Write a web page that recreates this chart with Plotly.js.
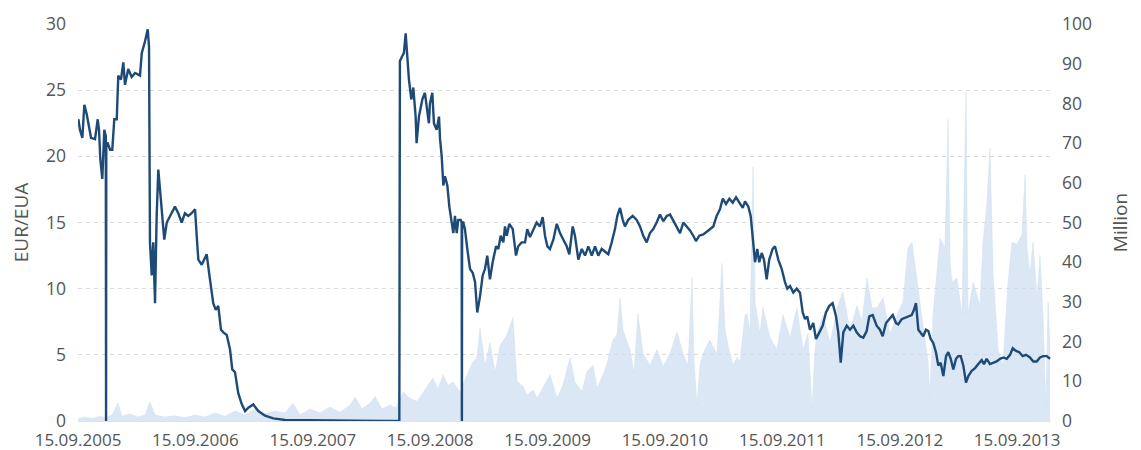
<!DOCTYPE html>
<html>
<head>
<meta charset="utf-8">
<script src="https://cdn.plot.ly/plotly-3.0.1.min.js"></script>
<style>
  html, body { margin: 0; padding: 0; background: #fff; }
  #chart { width: 1141px; height: 450px; }
</style>
</head>
<body>
<div id="chart"></div>
<script>
// Time in decimal years (15.09.2005 = 2005.707)
const priceT = [
  2005.710,2005.724,2005.744,2005.761,2005.781,2005.795,2005.818,2005.852,2005.875,2005.886,
  2005.897,2005.914,2005.931,2005.944,2005.946,2005.948,2005.960,2005.980,2005.999,2006.016,
  2006.037,2006.050,2006.073,2006.093,2006.107,2006.135,2006.164,2006.193,2006.235,2006.250,
  2006.278,2006.301,2006.312,2006.320,2006.335,2006.348,2006.363,2006.377,2006.391,2006.408,
  2006.425,2006.442,2006.463,2006.491,2006.533,2006.561,2006.590,2006.618,2006.647,2006.675,
  2006.704,2006.718,2006.732,2006.761,2006.803,2006.831,2006.859,2006.880,2006.902,2006.925,
  2006.945,2006.974,2007.002,2007.021,2007.044,2007.072,2007.101,2007.130,2007.158,2007.200,
  2007.243,2007.300,2007.371,2007.470,2007.555,2007.768,2008.024,2008.279,2008.444,
  2008.449,2008.470,2008.483,2008.498,2008.512,2008.526,2008.546,2008.563,2008.583,2008.591,
  2008.611,2008.640,2008.662,2008.682,2008.696,2008.705,2008.725,2008.739,2008.762,2008.782,
  2008.791,2008.805,2008.819,2008.833,2008.853,2008.870,2008.890,2008.904,2008.918,2008.933,
  2008.946,2008.967,2008.975,2008.977,2008.979,2008.989,2009.003,2009.023,2009.046,2009.069,
  2009.089,2009.108,2009.131,2009.154,2009.174,2009.193,2009.216,2009.239,2009.268,2009.287,
  2009.308,2009.330,2009.344,2009.359,2009.381,2009.410,2009.429,2009.438,2009.457,2009.486,
  2009.515,2009.534,2009.557,2009.585,2009.614,2009.642,2009.665,2009.685,2009.705,2009.727,
  2009.756,2009.785,2009.813,2009.841,2009.870,2009.892,2009.921,2009.940,2009.969,2009.998,
  2010.026,2010.054,2010.083,2010.111,2010.139,2010.168,2010.196,2010.224,2010.253,2010.281,
  2010.301,2010.324,2010.347,2010.366,2010.394,2010.432,2010.466,2010.494,2010.522,2010.551,
  2010.579,2010.607,2010.636,2010.664,2010.693,2010.722,2010.750,2010.778,2010.807,2010.835,
  2010.863,2010.892,2010.920,2010.948,2010.971,2010.999,2011.033,2011.076,2011.119,2011.147,
  2011.175,2011.199,2011.227,2011.255,2011.284,2011.312,2011.340,2011.369,2011.389,2011.417,
  2011.437,2011.459,2011.474,2011.493,2011.510,2011.531,2011.550,2011.573,2011.595,2011.624,
  2011.644,2011.672,2011.701,2011.729,2011.749,2011.772,2011.800,2011.829,2011.857,2011.880,
  2011.900,2011.919,2011.942,2011.970,2011.993,2012.022,2012.050,2012.078,2012.107,2012.135,
  2012.164,2012.183,2012.204,2012.226,2012.255,2012.283,2012.311,2012.340,2012.368,2012.396,
  2012.425,2012.447,2012.476,2012.510,2012.538,2012.561,2012.590,2012.618,2012.647,2012.675,
  2012.694,2012.723,2012.751,2012.780,2012.808,2012.828,2012.845,2012.865,2012.885,2012.907,
  2012.930,2012.950,2012.970,2012.992,2013.015,2013.035,2013.055,2013.078,2013.101,2013.120,
  2013.141,2013.163,2013.186,2013.205,2013.226,2013.248,2013.271,2013.291,2013.320,2013.348,
  2013.376,2013.405,2013.424,2013.447,2013.475,2013.504,2013.532,2013.561,2013.589,2013.618,
  2013.646,2013.669,2013.697,2013.725,2013.754,2013.782,2013.816,2013.844,2013.873,2013.901,
  2013.929,2013.958,2013.987
];
const priceEUR = [
  22.8,22.0,21.4,23.9,23.2,22.5,21.4,21.3,22.8,22.0,
  19.8,18.3,22.0,21.5,0,21.0,21.0,20.5,20.5,22.8,
  22.8,26.1,25.8,27.1,25.4,26.6,26.0,26.3,26.1,27.8,
  28.7,29.6,28.3,13.5,11.0,13.5,8.9,15.5,19.0,17.0,
  15.0,13.7,15.0,15.5,16.2,15.7,15.0,15.7,15.5,15.7,
  16.0,14.0,12.2,11.8,12.6,10.7,8.9,8.4,8.7,6.9,
  6.7,6.5,5.4,3.9,3.7,2.1,1.3,0.75,1.0,1.25,
  0.75,0.4,0.2,0.08,0.07,0.03,0.02,0.01,0.01,
  27.2,27.6,27.8,29.3,27.5,25.8,24.3,25.2,23.0,21.0,
  23.0,24.3,24.8,23.5,22.5,24.0,24.8,22.5,22.0,23.0,
  21.3,20.0,17.8,18.5,17.8,16.2,15.0,14.2,15.5,14.2,
  15.2,15.2,15.0,0,15.0,15.0,14.5,13.0,11.5,11.2,
  10.5,8.2,9.4,11.0,11.5,12.5,10.7,12.0,13.2,13.0,
  14.0,13.5,14.7,14.0,14.9,14.5,13.0,12.5,13.2,13.5,
  13.5,14.5,13.9,14.5,15.0,14.7,15.4,14.0,13.2,13.0,
  13.7,14.9,14.2,13.7,13.2,12.6,14.7,14.0,12.2,13.0,
  12.5,13.2,12.5,13.2,12.5,13.0,12.8,12.6,13.5,14.5,
  15.5,16.1,15.2,14.7,15.2,15.5,15.2,14.7,14.0,13.5,
  14.2,14.5,15.0,15.6,15.1,15.5,15.6,15.1,14.6,14.2,
  15.0,14.7,14.4,14.0,13.6,14.0,14.1,14.4,14.7,15.5,
  16.0,16.8,16.4,16.8,16.5,16.9,16.5,16.1,16.6,16.2,
  15.5,13.2,12.0,13.0,12.0,12.7,12.2,10.7,12.2,13.0,
  13.2,12.2,11.5,10.5,10.0,10.2,9.7,10.0,9.7,8.2,
  7.7,7.9,6.9,7.4,6.2,6.7,7.2,8.2,8.7,8.9,
  7.9,6.7,4.4,6.7,7.2,6.9,7.2,6.7,6.4,6.3,
  6.8,7.9,8.0,7.2,6.9,6.4,7.4,7.7,8.0,7.4,
  7.3,7.7,7.8,7.9,8.0,8.4,8.9,6.9,6.7,6.4,
  6.9,6.8,6.2,5.9,5.2,4.2,4.4,3.4,4.9,5.2,
  4.7,3.9,4.7,4.9,4.9,4.2,2.9,3.4,3.8,4.0,
  4.3,4.6,4.3,4.7,4.3,4.4,4.5,4.7,4.8,4.7,
  5.0,5.5,5.3,5.2,4.9,5.0,4.8,4.5,4.5,4.8,
  4.9,4.9,4.7
];

const volT = [
  2005.707,2005.767,2005.826,2005.894,2005.946,2005.997,2006.048,2006.082,2006.150,2006.218,
  2006.278,2006.320,2006.363,2006.448,2006.533,2006.618,2006.704,2006.789,2006.874,2006.959,
  2007.044,2007.130,2007.215,2007.300,2007.385,2007.470,2007.538,2007.598,2007.683,2007.768,
  2007.854,2007.939,2008.024,2008.067,2008.126,2008.194,2008.237,2008.296,2008.365,2008.416,
  2008.475,2008.535,2008.595,2008.646,2008.688,2008.731,2008.773,2008.816,2008.859,2008.901,
  2008.961,2009.021,2009.072,2009.106,2009.131,2009.174,2009.216,2009.259,2009.302,2009.361,
  2009.412,2009.446,2009.498,2009.532,2009.583,2009.617,2009.668,2009.728,2009.787,2009.838,
  2009.898,2009.940,2010.000,2010.043,2010.094,2010.128,2010.179,2010.213,2010.264,2010.298,
  2010.324,2010.349,2010.383,2010.409,2010.443,2010.477,2010.520,2010.579,2010.639,2010.690,
  2010.750,2010.809,2010.860,2010.903,2010.937,2010.954,2010.980,2011.005,2011.031,2011.090,
  2011.116,2011.150,2011.193,2011.218,2011.252,2011.286,2011.320,2011.346,2011.389,2011.406,
  2011.431,2011.457,2011.474,2011.516,2011.542,2011.601,2011.661,2011.712,2011.772,2011.831,
  2011.883,2011.925,2011.959,2011.985,2012.002,2012.053,2012.113,2012.172,2012.223,2012.283,
  2012.343,2012.385,2012.428,2012.470,2012.513,2012.564,2012.624,2012.683,2012.734,2012.777,
  2012.811,2012.854,2012.905,2012.947,2012.964,2012.990,2013.050,2013.092,2013.118,2013.135,
  2013.152,2013.194,2013.237,2013.271,2013.288,2013.331,2013.390,2013.416,2013.450,2013.475,
  2013.501,2013.544,2013.586,2013.629,2013.663,2013.705,2013.748,2013.774,2013.791,2013.816,
  2013.842,2013.876,2013.901,2013.927,2013.952,2013.970,2013.987
];
const volMillion = [
  0.5,1.0,0.6,1.2,0.8,1.5,4.5,1.2,1.8,1.0,
  1.5,4.8,1.5,1.0,1.3,0.8,1.5,1.0,2.0,1.2,
  2.5,1.5,3.0,1.8,2.5,2.0,4.5,1.5,3.0,2.0,
  3.5,2.2,4.0,6.0,3.0,4.5,6.2,3.0,4.0,3.3,
  7.3,5.7,4.9,7.3,9.0,10.8,8.0,11.6,9.0,9.8,
  7.3,11.6,15.0,16.0,23.4,14.0,19.7,12.3,19.0,21.7,
  26.0,10.0,8.7,6.5,7.8,5.7,8.5,11.6,5.7,9.0,
  15.9,9.8,7.4,12.5,14.0,8.3,11.6,14.5,20.4,21.7,
  31.0,23.0,20.0,18.0,12.0,27.0,17.0,14.0,18.0,13.7,
  17.0,22.4,17.0,14.0,36.0,15.0,4.0,14.0,17.0,20.4,
  18.7,17.0,39.7,23.0,18.0,14.0,16.0,15.0,26.7,27.0,
  22.4,64.0,30.0,22.0,28.5,21.0,18.0,26.7,21.0,28.5,
  18.0,22.0,3.0,18.0,22.0,26.7,19.6,28.5,32.5,23.0,
  29.0,25.0,36.0,28.5,28.5,31.0,22.0,26.7,30.0,43.6,
  45.0,36.0,24.0,15.0,6.5,26.7,46.0,43.6,76.0,40.0,
  35.0,36.0,26.7,83.0,26.7,35.0,29.0,45.0,55.0,68.8,
  37.5,18.0,14.0,35.0,45.0,44.5,47.0,62.0,43.6,37.0,
  45.0,31.0,41.8,26.7,3.0,30.0,18.0
];

const tickYears = [2005.707,2006.707,2007.707,2008.707,2009.707,2010.707,2011.707,2012.707,2013.707];
const tickLabels = ['15.09.2005','15.09.2006','15.09.2007','15.09.2008','15.09.2009','15.09.2010','15.09.2011','15.09.2012','15.09.2013'];

const txt = '#555';
const fontFam = '"Open Sans", "Noto Sans", sans-serif';

const traces = [
  {
    x: volT, y: volMillion, type: 'scatter', mode: 'lines',
    xaxis: 'x', yaxis: 'y',
    fill: 'tozeroy', fillcolor: 'rgba(204,221,240,0.7)',
    line: {width: 0.5, color: 'rgba(204,221,240,0.9)'},
    hoverinfo: 'skip', showlegend: false
  },
  {
    x: priceT, y: priceEUR, type: 'scatter', mode: 'lines',
    xaxis: 'x', yaxis: 'y2',
    line: {width: 2.4, color: '#1e4a77'},
    showlegend: false
  }
];

const layout = {
  width: 1141, height: 450,
  margin: {l: 78, r: 90, t: 24, b: 29, pad: 0},
  paper_bgcolor: '#fff', plot_bgcolor: '#fff',
  font: {family: fontFam, size: 18, color: txt},
  showlegend: false,
  xaxis: {
    range: [2005.707, 2013.995],
    tickmode: 'array', tickvals: tickYears, ticktext: tickLabels,
    showgrid: false, zeroline: false,
    showline: true, linecolor: '#e2e2e2', linewidth: 1,
    ticks: '', ticklabelstandoff: 4,
    tickfont: {family: fontFam, size: 17, color: txt}
  },
  yaxis: {
    side: 'right', range: [0, 100], dtick: 10, tick0: 0,
    showgrid: false, zeroline: false, showline: false,
    ticks: '', ticklabelstandoff: 10,
    tickfont: {family: fontFam, size: 17.5, color: txt},
    title: {text: 'Million', font: {family: fontFam, size: 19, color: txt}, standoff: 22}
  },
  yaxis2: {
    overlaying: 'y', side: 'left', range: [0, 30], dtick: 5, tick0: 0,
    showgrid: true, gridcolor: '#dadada', griddash: '4px,4px', gridwidth: 1,
    zeroline: false, showline: false,
    ticks: '', ticklabelstandoff: 11,
    tickfont: {family: fontFam, size: 17.5, color: txt},
    title: {text: 'EUR/EUA', font: {family: fontFam, size: 19, color: txt}, standoff: 12}
  }
};

Plotly.newPlot('chart', traces, layout, {displayModeBar: false, staticPlot: true});
</script>
</body>
</html>
